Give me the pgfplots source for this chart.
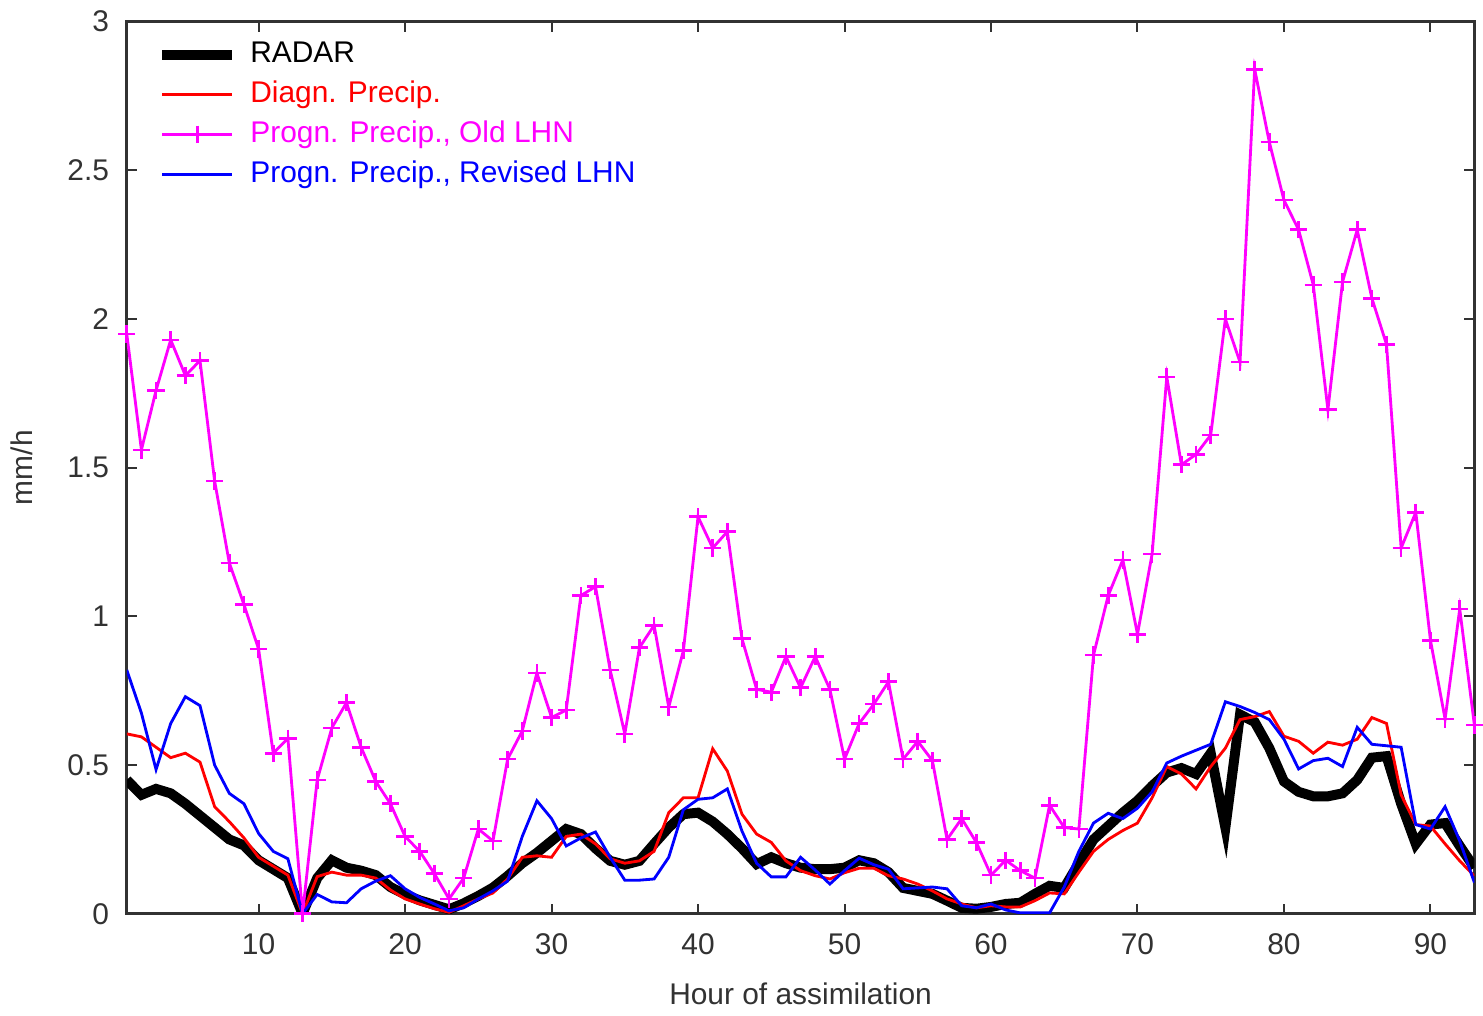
\documentclass[border=0pt]{standalone}
\usepackage{fontspec}
\setmainfont{Liberation Sans}
\usepackage{pgfplots}
\usepackage{pgfplotstable}
\pgfplotsset{compat=1.18}
\definecolor{axgray}{RGB}{50,50,50}
\definecolor{mag}{RGB}{255,0,255}
\definecolor{blu}{RGB}{0,0,255}
\definecolor{rd}{RGB}{255,0,0}

% i  radar  diagn  oldlhn  revlhn
\pgfplotstableread{
i radar diagn oldlhn revlhn
1 0.45 0.605 1.95 0.82
2 0.40 0.595 1.56 0.675
3 0.42 0.56 1.76 0.485
4 0.405 0.525 1.93 0.64
5 0.37 0.54 1.81 0.73
6 0.33 0.51 1.86 0.70
7 0.29 0.36 1.455 0.50
8 0.25 0.31 1.18 0.405
9 0.23 0.255 1.04 0.37
10 0.18 0.19 0.89 0.27
11 0.15 0.16 0.54 0.21
12 0.12 0.13 0.59 0.185
13 0.0 0.0 0.0 0.0
14 0.12 0.125 0.45 0.065
15 0.18 0.14 0.625 0.04
16 0.155 0.13 0.71 0.037
17 0.145 0.13 0.56 0.084
18 0.13 0.12 0.445 0.11
19 0.09 0.08 0.37 0.128
20 0.065 0.05 0.26 0.084
21 0.045 0.033 0.21 0.055
22 0.03 0.017 0.135 0.033
23 0.015 0.005 0.05 0.01
24 0.035 0.027 0.12 0.02
25 0.06 0.05 0.285 0.05
26 0.088 0.07 0.245 0.077
27 0.127 0.117 0.52 0.11
28 0.17 0.19 0.615 0.26
29 0.205 0.195 0.81 0.38
30 0.245 0.19 0.66 0.32
31 0.285 0.26 0.685 0.228
32 0.268 0.268 1.07 0.255
33 0.22 0.235 1.10 0.275
34 0.178 0.185 0.82 0.19
35 0.165 0.17 0.605 0.113
36 0.178 0.178 0.895 0.113
37 0.235 0.21 0.97 0.117
38 0.29 0.34 0.695 0.19
39 0.335 0.39 0.885 0.35
40 0.34 0.39 1.335 0.385
41 0.31 0.555 1.23 0.39
42 0.268 0.48 1.285 0.42
43 0.22 0.335 0.925 0.278
44 0.167 0.268 0.755 0.17
45 0.19 0.24 0.745 0.124
46 0.17 0.178 0.865 0.124
47 0.155 0.145 0.76 0.19
48 0.15 0.128 0.865 0.147
49 0.15 0.117 0.755 0.10
50 0.155 0.138 0.52 0.145
51 0.18 0.153 0.64 0.187
52 0.17 0.153 0.705 0.165
53 0.14 0.128 0.78 0.15
54 0.087 0.117 0.52 0.084
55 0.077 0.10 0.58 0.087
56 0.067 0.077 0.515 0.09
57 0.044 0.05 0.25 0.084
58 0.02 0.033 0.32 0.027
59 0.017 0.02 0.24 0.02
60 0.023 0.027 0.13 0.033
61 0.033 0.023 0.18 0.013
62 0.037 0.023 0.145 0.003
63 0.067 0.044 0.12 0.003
64 0.094 0.07 0.365 0.003
65 0.087 0.067 0.29 0.09
66 0.17 0.14 0.285 0.21
67 0.25 0.21 0.87 0.305
68 0.295 0.25 1.07 0.338
69 0.34 0.28 1.19 0.32
70 0.38 0.305 0.94 0.355
71 0.43 0.39 1.21 0.41
72 0.475 0.495 1.805 0.507
73 0.49 0.47 1.51 0.53
74 0.47 0.42 1.545 0.55
75 0.54 0.495 1.61 0.57
76 0.29 0.557 2.0 0.713
77 0.67 0.653 1.855 0.697
78 0.645 0.663 2.84 0.677
79 0.557 0.68 2.595 0.653
80 0.445 0.597 2.40 0.587
81 0.41 0.58 2.30 0.487
82 0.395 0.54 2.115 0.515
83 0.395 0.577 1.695 0.523
84 0.405 0.567 2.125 0.495
85 0.45 0.587 2.30 0.627
86 0.525 0.66 2.07 0.57
87 0.53 0.64 1.915 0.565
88 0.37 0.40 1.23 0.56
89 0.235 0.30 1.35 0.30
90 0.30 0.295 0.92 0.285
91 0.305 0.235 0.655 0.36
92 0.228 0.178 1.025 0.245
93 0.155 0.127 0.635 0.105
}\datatable

\begin{document}
\begin{tikzpicture}
\begin{axis}[
  scale only axis,
  width=405.6pt, height=268.5pt,
  xmin=1, xmax=93, ymin=0, ymax=3,
  xtick={10,20,...,90},
  ytick={0,0.5,...,3},
  tick align=inside,
  major tick length=3pt,
  axis line style={line width=0.8pt, color=axgray},
  every tick/.style={axgray, line width=0.6pt},
  /pgf/number format/assume math mode=true,
  tick label style={font=\fontsize{9}{11}\selectfont, color=axgray},
  xticklabel style={yshift=-2.5pt},
  yticklabel style={xshift=-1.8pt},
  label style={font=\fontsize{9}{11}\selectfont, color=axgray},
  xlabel={Hour of assimilation},
  ylabel={mm/h},
  xlabel style={yshift=-1.5pt},
  ylabel style={yshift=3.5pt},
  legend style={at={(0,1)}, anchor=north west, xshift=7pt, yshift=-2pt,
    draw=none, fill=none, font=\fontsize{9}{11}\selectfont,
    row sep=0pt, column sep=2pt, inner sep=2pt},
  legend cell align=left,
  legend image code/.code={\draw[mark repeat=2,mark phase=2,#1] plot coordinates {(0pt,0pt) (10.5pt,0pt) (21pt,0pt)};},
]
\addplot[black, line width=3pt, line join=miter, miter limit=20] table[x=i, y=radar] {\datatable};
\addlegendentry{RADAR}
\addplot[rd, line width=0.85pt] table[x=i, y=diagn] {\datatable};
\addlegendentry{\textcolor{rd}{Diagn. Precip.}}
\addplot[mag, line width=0.85pt, mark=+, mark size=2.6pt, mark options={line width=0.8pt}] table[x=i, y=oldlhn] {\datatable};
\addlegendentry{\textcolor{mag}{Progn. Precip., Old LHN}}
\addplot[blu, line width=0.85pt] table[x=i, y=revlhn] {\datatable};
\addlegendentry{\textcolor{blu}{Progn. Precip., Revised LHN}}
\end{axis}
\end{tikzpicture}
\end{document}
